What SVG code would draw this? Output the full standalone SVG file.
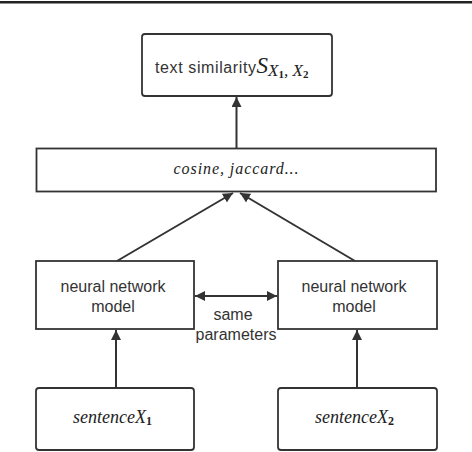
<svg xmlns="http://www.w3.org/2000/svg" width="472" height="452" viewBox="0 0 472 452">
<defs>
<style>
.box{fill:#fff;stroke:#333;stroke-width:1.8}
.lbl{font-family:"Liberation Sans",Arial,sans-serif;font-size:16px;fill:#333;text-anchor:middle}
.math{font-family:"Liberation Serif","Times New Roman",serif;font-style:italic;fill:#222}
.sub{font-family:"Liberation Serif","Times New Roman",serif;font-weight:bold;fill:#222}
.con{stroke:#333;stroke-width:2;fill:none}
</style>
<marker id="ah" viewBox="0 0 10 10" refX="10" refY="5" markerWidth="10" markerHeight="10" markerUnits="userSpaceOnUse" orient="auto-start-reverse">
<path d="M0,0 L10,5 L0,10 z" fill="#333"/>
</marker>
</defs>
<rect x="0" y="0" width="472" height="452" fill="#fff"/>
<rect x="0" y="1" width="472" height="2.5" fill="#222"/>
<g id="connectors">
<line class="con" x1="236.5" y1="148" x2="236.5" y2="97" marker-end="url(#ah)"/>
<line class="con" x1="117" y1="261" x2="233" y2="193" marker-end="url(#ah)"/>
<line class="con" x1="355" y1="261" x2="240" y2="193" marker-end="url(#ah)"/>
<line class="con" x1="195" y1="296" x2="277" y2="296" marker-start="url(#ah)" marker-end="url(#ah)"/>
<line class="con" x1="116" y1="388" x2="116" y2="330" marker-end="url(#ah)"/>
<line class="con" x1="357" y1="388" x2="357" y2="330" marker-end="url(#ah)"/>
</g>
<g id="similarity">
<rect class="box" x="142" y="34" width="190" height="62" rx="3"/>
<text x="155" y="73" font-family="Liberation Sans,Arial,sans-serif" font-size="16" fill="#333"><tspan textLength="101">text similarity</tspan><tspan class="math" font-size="23">S</tspan><tspan class="math" font-size="17" dy="3">X</tspan><tspan class="sub" font-size="11" dy="2">1</tspan><tspan class="math" font-size="17" dy="-2">, X</tspan><tspan class="sub" font-size="11" dy="2">2</tspan></text>
</g>
<g id="metric">
<rect class="box" x="36.5" y="148.5" width="399.5" height="43"/>
<text class="math" x="236" y="174" font-size="16" text-anchor="middle" textLength="125">cosine, jaccard...</text>
</g>
<g id="nn1">
<rect class="box" x="36" y="261" width="158" height="68"/>
<text class="lbl" x="113" y="292">neural network</text>
<text class="lbl" x="113" y="312">model</text>
</g>
<g id="nn2">
<rect class="box" x="278" y="261" width="159" height="68"/>
<text class="lbl" x="354" y="292">neural network</text>
<text class="lbl" x="354" y="312">model</text>
</g>
<g id="shared-label">
<text class="lbl" x="233" y="320">same</text>
<text class="lbl" x="236" y="340">parameters</text>
</g>
<g id="sentence1">
<rect class="box" x="36" y="388" width="158" height="62" rx="3"/>
<text x="73" y="423" font-size="18"><tspan class="math">sentenceX</tspan><tspan class="sub" font-size="12" dy="2">1</tspan></text>
</g>
<g id="sentence2">
<rect class="box" x="278" y="388" width="159" height="62" rx="3"/>
<text x="315" y="423" font-size="18"><tspan class="math">sentenceX</tspan><tspan class="sub" font-size="12" dy="2">2</tspan></text>
</g>
</svg>
